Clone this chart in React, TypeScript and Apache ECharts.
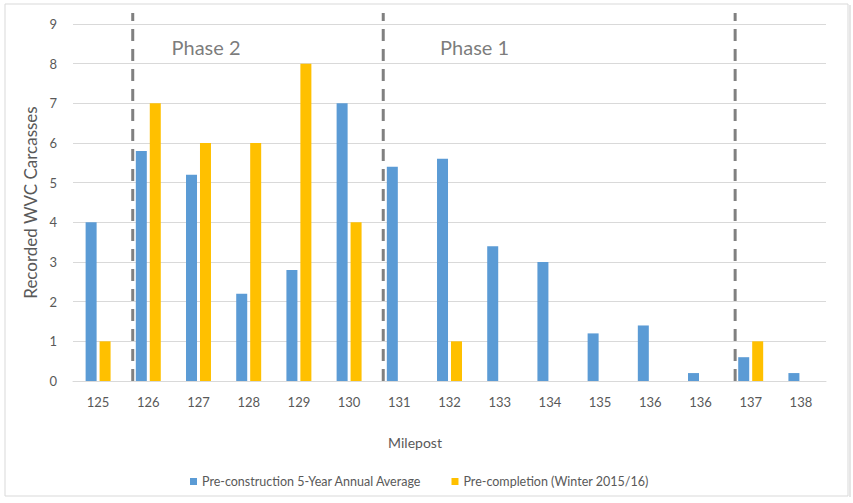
import React, { useEffect, useRef } from "react";
import * as echarts from "echarts";

const categories = ["125", "126", "127", "128", "129", "130", "131", "132", "133", "134", "135", "136", "136", "137", "138"];
const preConstruction = [4, 5.8, 5.2, 2.2, 2.8, 7, 5.4, 5.6, 3.4, 3, 1.2, 1.4, 0.2, 0.6, 0.2];
const preCompletion = [1, 7, 6, 6, 8, 4, 0, 1, 0, 0, 0, 0, 0, 1, 0];
const seriesNames = ["Pre-construction 5-Year Annual Average", "Pre-completion (Winter 2015/16)"];
const yTicks = { min: 0, max: 9, interval: 1 };
// divider positions, in category units from the left edge of the plot
const dividers = [1.19, 6.18, 13.19];
const dividerTop = 9.28;
const phaseLabels = [
  { name: "Phase 2", x: 2.65, y: 8.42 },
  { name: "Phase 1", x: 8.0, y: 8.42 },
];

const FONT = "Lato";
const TEXT = "#595959";

export default function App() {
  const ref = useRef<HTMLDivElement>(null);
  useEffect(() => {
    if (!ref.current) return;
    const chart = echarts.init(ref.current, undefined, { renderer: "svg" });
    const dividerSeries = dividers.map((d) => ({
      type: "line",
      xAxisIndex: 1,
      yAxisIndex: 0,
      data: [
        [d, 0],
        [d, dividerTop],
      ],
      symbol: "none",
      clip: false,
      silent: true,
      z: 5,
      lineStyle: { color: "#808080", width: 3, type: [12, 8] },
    }));
    chart.setOption({
      animation: false,
      textStyle: { fontFamily: FONT, color: TEXT },
      grid: { left: 73, right: 27, top: 24, bottom: 122 },
      legend: {
        data: seriesNames,
        left: 190,
        top: 475,
        padding: 0,
        icon: "rect",
        itemWidth: 7,
        itemHeight: 7,
        itemGap: 30,
        textStyle: { fontFamily: FONT, color: TEXT, fontSize: 12.5 },
      },
      xAxis: [
        {
          type: "category",
          data: categories,
          axisLine: { lineStyle: { color: "#d9d9d9" } },
          axisTick: { show: false },
          axisLabel: { color: TEXT, fontSize: 13, fontFamily: FONT, margin: 14 },
        },
        { type: "value", min: 0, max: categories.length, show: false },
      ],
      yAxis: {
        type: "value",
        min: yTicks.min,
        max: yTicks.max,
        interval: yTicks.interval,
        name: "Recorded WVC Carcasses",
        nameLocation: "middle",
        nameGap: 33,
        nameTextStyle: { color: TEXT, fontSize: 17, fontFamily: FONT },
        axisLine: { show: false },
        axisTick: { show: false },
        axisLabel: { color: TEXT, fontSize: 13, fontFamily: FONT, margin: 16 },
        splitLine: { lineStyle: { color: "#d9d9d9" } },
      },
      graphic: [
        {
          type: "rect",
          shape: { x: 5, y: 4, width: 843, height: 492 },
          style: { fill: "none", stroke: "#d9d9d9", lineWidth: 1 },
          silent: true,
        },
        {
          type: "rect",
          shape: { x: 849, y: 5, width: 2, height: 492 },
          style: { fill: "#e6e6e6" },
          silent: true,
        },
        {
          type: "text",
          x: 415,
          y: 442,
          style: { text: "Milepost", fill: TEXT, font: `14px ${FONT}`, align: "center", verticalAlign: "middle" },
        },
      ],
      series: [
        {
          name: seriesNames[0],
          type: "bar",
          data: preConstruction,
          barWidth: 11,
          barGap: "27%",
          itemStyle: { color: "#5b9bd5" },
        },
        {
          name: seriesNames[1],
          type: "bar",
          data: preCompletion,
          barWidth: 11,
          barGap: "27%",
          itemStyle: { color: "#ffc000" },
        },
        ...dividerSeries,
        {
          type: "scatter",
          xAxisIndex: 1,
          yAxisIndex: 0,
          symbolSize: 0,
          silent: true,
          data: phaseLabels.map((p) => ({ name: p.name, value: [p.x, p.y] })),
          label: {
            show: true,
            position: "inside",
            formatter: "{b}",
            color: TEXT,
            fontSize: 20,
            fontFamily: FONT,
          },
        },
      ],
    });
    return () => chart.dispose();
  }, []);
  return (
    <div
      ref={ref}
      style={{ position: "fixed", left: 0, top: 0, width: 853, height: 503, background: "#fff" }}
    />
  );
}
